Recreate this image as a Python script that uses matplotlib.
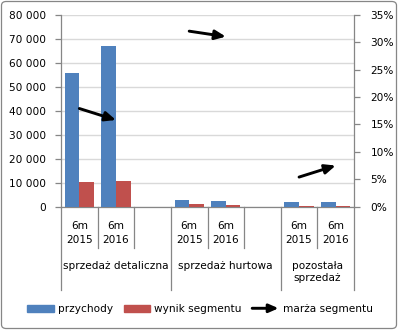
import matplotlib
matplotlib.use("Agg")
import matplotlib.pyplot as plt
import matplotlib.transforms as mtransforms
from matplotlib.patches import FancyBboxPatch, Patch, FancyArrowPatch
from matplotlib.legend_handler import HandlerBase
from matplotlib.lines import Line2D
from matplotlib.ticker import FuncFormatter, MultipleLocator

plt.rcParams['font.family'] = ['DejaVu Sans']

# --- data -------------------------------------------------------------
segments = ["sprzedaż detaliczna", "sprzedaż hurtowa", "pozostała\nsprzedaż"]
periods = ["6m\n2015", "6m\n2016"]
przychody = [55700, 67000, 2800, 2400, 2100, 2000]
wynik = [10200, 10700, 950, 700, 400, 350]
marza = [0.179, 0.158, 0.320, 0.310, 0.054, 0.075]

BLUE = "#4F81BD"
RED = "#C0504D"
GRID = "#D9D9D9"
AXIS = "#868686"
FS = 7.6

W, H = 398, 330
fig = plt.figure(figsize=(W / 100, H / 100), dpi=100)

# chart-area border
fig.patches.append(FancyBboxPatch((1.5 / W, 1.5 / H), 1 - 3 / W, 1 - 3 / H,
                                  boxstyle="round,pad=0,rounding_size=0.012",
                                  transform=fig.transFigure, fill=False,
                                  edgecolor=AXIS, linewidth=0.9))

left, right, bottom, top = 61, 354, 206.7, 14.7
ax = fig.add_axes([left / W, 1 - bottom / H, (right - left) / W, (bottom - top) / H])
ax2 = ax.twinx()

n_groups = len(segments)
slots_per_group = 3
n_slots = slots_per_group * (n_groups - 1) + len(periods)

xs = []
for g in range(n_groups):
    for p in range(len(periods)):
        xs.append(slots_per_group * g + p + 0.5)

bw = 0.4
ax.bar([x - bw / 2 for x in xs], przychody, width=bw, color=BLUE, zorder=3)
ax.bar([x + bw / 2 for x in xs], wynik, width=bw, color=RED, zorder=3)

ax.set_xlim(0, n_slots)
ax.set_ylim(0, 80000)
ax.yaxis.set_major_locator(MultipleLocator(10000))
ax.yaxis.set_major_formatter(FuncFormatter(lambda v, _: f"{int(v):,}".replace(",", " ")))
ax.grid(axis='y', color=GRID, linewidth=1.0, zorder=0)
ax.set_axisbelow(True)
ax.set_xticks([])

ax2.set_ylim(0, 0.35)
ax2.yaxis.set_major_locator(MultipleLocator(0.05))
ax2.yaxis.set_major_formatter(FuncFormatter(lambda v, _: f"{v * 100:.0f}%"))

for a in (ax, ax2):
    a.spines['top'].set_visible(False)
    for s in ('left', 'right', 'bottom'):
        a.spines[s].set_color(AXIS)
        a.spines[s].set_linewidth(0.9)
    a.tick_params(axis='y', direction='out', length=4, width=0.9, color=AXIS,
                  labelsize=FS, labelcolor='black')
ax.spines['right'].set_visible(False)
ax2.spines['left'].set_visible(False)
ax2.spines['bottom'].set_visible(False)
ax.tick_params(axis='y', pad=6.5)
ax2.tick_params(axis='y', pad=8)

ARROW = "-|>,head_length=0.8,head_width=0.35"

# margin line: one arrow per segment
for g in range(n_groups):
    i0, i1 = 2 * g, 2 * g + 1
    ax2.annotate("", xy=(xs[i1], marza[i1]), xytext=(xs[i0], marza[i0]),
                 arrowprops=dict(arrowstyle=ARROW, lw=2.1, color="black",
                                 shrinkA=0, shrinkB=0, mutation_scale=8),
                 zorder=5)

# two-level category axis
trans = mtransforms.blended_transform_factory(ax.transData, ax.transAxes)
ah = bottom - top
short = -41 / ah
long_ = -83 / ah
for b in range(n_slots + 1):
    is_group_edge = (b % slots_per_group == 0) or b == n_slots
    ax.plot([b, b], [0, long_ if is_group_edge else short], transform=trans,
            color=AXIS, lw=0.9, clip_on=False, zorder=1)

for i, x in enumerate(xs):
    ax.text(x, -26.5 / ah, periods[i % len(periods)], transform=trans,
            ha='center', va='center', fontsize=FS, linespacing=1.5)

for g, name in enumerate(segments):
    start = slots_per_group * g
    end = min(start + slots_per_group, n_slots)
    ax.text((start + end) / 2, -54 / ah, name, transform=trans,
            ha='center', va='top', fontsize=FS, linespacing=1.25)


class ArrowHandler(HandlerBase):
    def create_artists(self, legend, orig_handle, xdescent, ydescent,
                       width, height, fontsize, trans):
        y = height / 2 - ydescent
        arr = FancyArrowPatch((-xdescent, y), (-xdescent + width, y),
                              arrowstyle=ARROW, mutation_scale=7, lw=2.1,
                              color="black", shrinkA=0, shrinkB=0,
                              transform=trans)
        return [arr]


handles = [Patch(color=BLUE), Patch(color=RED),
           Line2D([], [], color='black')]
labels = ["przychody", "wynik segmentu", "marża segmentu"]
fig.legend(handles, labels, loc='center', bbox_to_anchor=(200 / W, 1 - 309 / H),
           ncol=3, frameon=False, fontsize=FS, handlelength=2.5, handleheight=0.6,
           handletextpad=0.4, columnspacing=1.0,
           handler_map={Line2D: ArrowHandler()})

fig.savefig("out.png", dpi=100)
